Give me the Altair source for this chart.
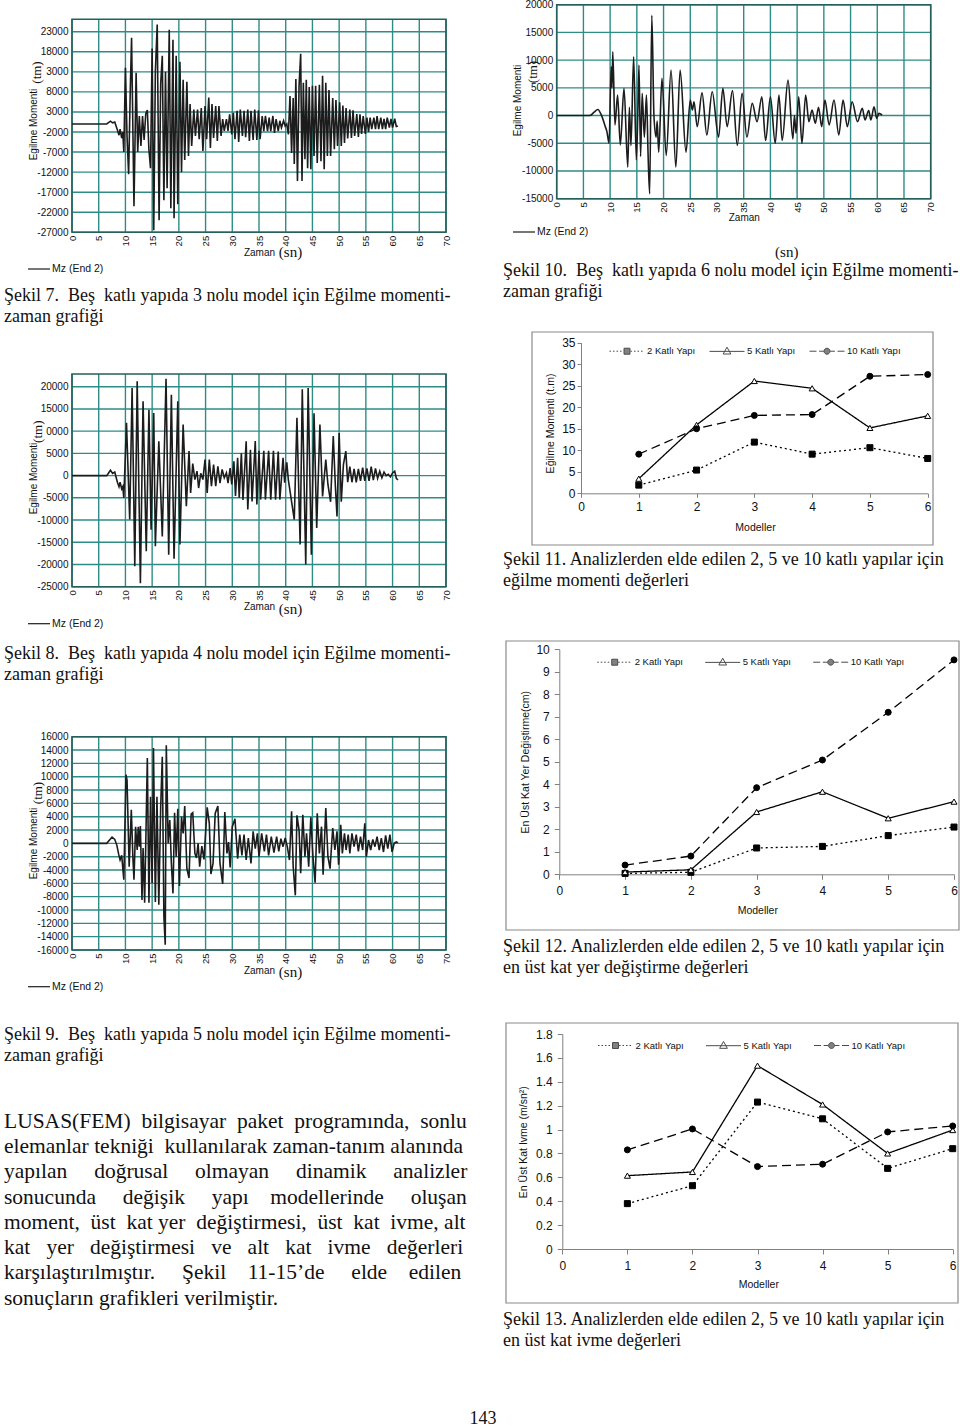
import altair as alt
import pandas as pd

W, H = 960, 1427
SANS = "Liberation Sans"
SERIF = "Liberation Serif"
INK = "#111111"
GRID = "#2e8c87"
FRAME = "#24605c"
NB = "\u00a0"

# ---------------- time histories: (time s, moment) read from the page ----------------
S7 = [(0, 0), (6.5, 0), (7.2, 700), (7.6, 300), (8.0, 500), (8.5, -1500), (8.8, -2800), (9.0, -1300), (9.3, -3500), (9.5, -2000), (9.7, -7000),
      (10.0, 14000), (10.3, -3000), (10.6, -12500), (10.9, 8000), (11.15, 21500), (11.6, -20500), (12.0, 12800), (12.3, -7000), (12.6, 2000),
      (12.9, -5500), (13.2, 2000), (13.5, -4000), (13.8, 2500), (14.1, 3500), (14.4, -6500), (14.7, -11000),
      (15.0, 18800), (15.3, -26500), (15.6, 13000), (15.95, 24800), (16.3, -24000), (16.6, 10000), (16.9, 17000), (17.2, -19000), (17.5, 13000),
      (17.8, -16000), (18.2, 23500), (18.5, -21000), (18.9, 21000), (19.1, -23500), (19.5, 17000), (19.8, -20000), (20.2, 15500), (20.5, -12000),
      (20.8, 11000), (21.1, -9000), (21.5, 10500), (21.8, -8000),
      (22.1, 5000), (22.4, -5500), (22.8, 3600), (23.1, -3000), (23.5, 3600), (23.8, -3800), (24.2, 4000), (24.5, -6700), (24.9, 4500), (25.2, -3800),
      (25.6, 6600), (25.9, -6000), (26.2, 5000), (26.5, -3500), (26.9, 4500), (27.2, -4200), (27.5, 4500), (27.9, -3000),
      (28.2, 1200), (28.5, -1700), (28.9, 1200), (29.2, -1700), (29.5, 2400), (29.9, -2600), (30.2, 2800), (30.5, -3800), (30.9, 3300), (31.2, -4500),
      (31.5, 3600), (31.9, -3000), (32.2, 3300), (32.5, -3300), (32.9, 3600), (33.2, -4200), (33.5, 3300), (33.9, -4000), (34.2, 3600), (34.6, -4000),
      (34.9, 3400), (35.2, -3800), (35.6, 2000), (35.9, -1800), (36.2, 2000), (36.6, -1800), (36.9, 1600), (37.2, -1800), (37.6, 2000), (37.9, -2200),
      (38.2, 1200), (38.6, -1800), (38.9, 800), (39.2, -900), (39.6, 800), (39.9, -500), (40.2, 0), (40.5, -2600),
      (40.8, 7000), (41.1, -7200), (41.4, 6500), (41.6, -10000), (41.9, 11200), (42.2, -14200), (42.5, 9500), (42.8, 17500), (43.05, -14200),
      (43.3, 10300), (43.6, -8800), (43.85, 11000), (44.1, -11000), (44.4, 9200), (44.7, -11300), (45.0, 9500), (45.3, -8000), (45.6, 9500),
      (45.9, -9700), (46.3, 9800), (46.6, -9300), (46.9, 12000), (47.2, -11300), (47.5, 10300), (47.8, -8000), (48.1, 8500), (48.4, -8000),
      (48.8, 6500), (49.1, -6300), (49.4, 6000), (49.7, -5500), (50.1, 5400), (50.4, -5500), (50.7, 4600), (51.0, -4700), (51.3, 4000), (51.6, -3600),
      (52.0, 3600), (52.3, -3500), (52.6, 3400), (52.9, -3000), (53.3, 2500), (53.6, -3200), (53.9, 2400), (54.2, -2500), (54.5, 2000), (54.9, -2500),
      (55.2, 1600), (55.5, -2000), (55.8, 1600), (56.1, -1300), (56.5, 1600), (56.8, -1300), (57.1, 2000), (57.4, -1300), (57.8, 1600), (58.1, -1300),
      (58.4, 1300), (58.7, -1300), (59.0, 1600), (59.4, -900), (59.7, 1300), (60.0, -900), (60.4, 1300), (60.7, -600), (61.0, -500)]

S8 = [(0, 0), (6.5, 0), (7.2, 1200), (7.6, 500), (8.0, 800), (8.5, -1500), (8.8, -2500), (9.0, -1500), (9.3, -3000), (9.5, -2500), (9.7, -5000),
      (10.2, 11900), (10.8, -9900), (11.25, 19700), (11.75, -20400), (12.2, 21200), (12.8, -24200), (13.3, 16700), (13.9, -17000), (14.4, 14800),
      (14.8, -12200), (15.3, 14100), (15.6, -15900), (16.25, 7700), (16.9, -13700), (17.6, 21800), (18.1, -17800), (18.6, 18200), (19.1, -18700),
      (19.8, 16700), (20.2, -15500), (20.8, 11500), (21.4, -6900), (21.9, 5500), (22.2, -3900),
      (22.6, 2700), (23.0, -900), (23.4, 1000), (23.7, -2800), (24.1, 500), (24.5, -900), (24.9, 3600), (25.3, -3900), (25.7, 3600), (26.1, -2400),
      (26.5, 2500), (26.9, -2400), (27.3, 2100), (27.7, -1700), (28.1, 1400), (28.5, -500), (28.9, 600), (29.2, -1700), (29.6, 1700), (29.9, -2000),
      (30.3, 3200), (30.6, -4600), (31.0, 4000), (31.3, -5000), (31.7, 5000), (32.0, -5500), (32.6, 7700), (32.9, -7600), (33.4, 5800), (33.7, -5800),
      (34.3, 7800), (34.6, -6500), (35.0, 5600), (35.3, -5400), (35.9, 5600), (36.2, -5400), (36.8, 5600), (37.2, -5400), (37.7, 5600), (38.1, -5400),
      (38.6, 5400), (38.9, -5400), (39.5, 4000), (39.8, -1600), (40.2, 3000), (40.5, -1000),
      (41.6, -9900), (42.1, 13000), (42.7, -15500), (43.1, 19400), (43.75, -20000), (44.2, 19700), (44.8, -17800), (45.3, 14000), (45.8, -11800),
      (46.4, 11500), (46.9, -4700), (47.5, 3600), (47.9, -2000), (48.4, -5900), (48.9, 8900), (49.3, -2500), (49.6, -9200), (50.0, 9600),
      (50.4, -5900), (50.8, 2500), (51.25, 5500), (51.6, -1500),
      (52.0, 2000), (52.4, -1500), (52.8, 1500), (53.2, -1500), (53.6, 1500), (54.0, -1200), (54.4, 1800), (54.8, -1200), (55.2, 1600), (55.6, -1200),
      (56.0, 2000), (56.4, -1000), (56.8, 1600), (57.2, -600), (57.6, 1000), (58.0, -500), (58.4, 800), (58.8, 0), (59.2, 300), (59.6, -300),
      (60.0, 600), (60.4, 1000), (60.7, -600), (61.0, -1000)]

S9 = [(0, 0), (6.5, 0), (7.5, 950), (8.0, 600), (8.4, -300), (8.75, -1700), (9.0, -2500), (9.3, -1800), (9.7, -5450),
      (10.1, 10300), (10.3, 9500), (10.7, -3500), (11.1, 5050), (11.4, -2200), (11.6, -5450), (11.9, 2500), (12.2, -1000), (12.4, 2500),
      (12.6, -500), (12.8, 2600), (13.1, -8500), (13.3, -700), (13.6, -8900), (13.9, 4000), (14.1, 12800), (14.4, -8900), (14.7, 7000),
      (15.0, -6000), (15.25, 14300), (15.6, -8800), (15.9, 7000), (16.25, -9200), (16.6, 5500), (16.9, 13000), (17.2, -11000), (17.45, -15200),
      (17.65, 14700), (18.0, 0), (18.3, 3500), (18.6, -3000), (18.9, -7500), (19.2, 4600), (19.5, -2000), (19.8, 5200), (20.1, -6400),
      (20.5, 4000), (20.8, 1500), (21.1, 5600), (21.5, -3800), (21.9, -5200), (22.3, 4400), (22.6, 4600), (23.0, -1500), (23.3, -2200),
      (23.6, 0), (23.9, -3500), (24.3, -400), (24.7, -2400), (25.3, 5400), (25.7, 3000), (26.0, -4600), (26.4, -3000), (26.8, 4500),
      (27.3, 5600), (27.7, -3000), (28.2, -6100), (28.6, 4700), (29.0, -1500), (29.3, 200), (29.6, -3600), (30.0, 2500), (30.5, 3700),
      (31.0, -2300), (31.4, 1300), (31.8, -1800), (32.2, 1300), (32.6, -2500), (33.0, 800), (33.5, -3000), (33.9, 1800), (34.3, -800),
      (34.7, 1500), (35.0, -2000), (35.5, 1500), (36.0, -1200), (36.4, 1300), (36.8, -1800), (37.3, 1000), (37.8, -1400), (38.3, 1000),
      (38.7, -1200), (39.1, 700), (39.5, -500), (39.9, 800), (40.3, -500),
      (40.7, -2500), (41.1, 4800), (41.4, -3500), (41.8, -7800), (42.1, 4200), (42.5, 2000), (42.8, -4500), (43.2, 4300), (43.6, -2000),
      (43.9, 1500), (44.3, -3500), (44.7, 3900), (45.1, -2000), (45.5, -5900), (45.9, 4500), (46.3, -1500), (46.7, 2500), (47.0, -4700),
      (47.5, 5300), (47.9, -2000), (48.3, -3800), (48.8, 2300), (49.2, -1000), (49.6, 1800), (49.9, -3200), (50.3, 2800), (50.6, -1500),
      (51.0, 1500), (51.3, -1000), (51.7, 1300), (52.0, -1500), (52.4, 1500), (52.8, -500), (53.2, 1300), (53.6, -1200), (54.0, 1000),
      (54.4, -1000), (54.8, 3000), (55.1, -2000), (55.5, 500), (55.9, -1000), (56.3, 600), (56.7, -500), (57.1, 1000), (57.5, -1000),
      (57.9, 800), (58.3, -1300), (58.7, 1200), (59.1, -800), (59.5, 1300), (59.9, -1300), (60.3, 0), (60.7, 200), (61.0, 100)]

S10 = [(0, 0), (6.2, 0), (7.0, 600), (7.7, 1100), (8.4, 0), (9.1, -2000), (9.4, -2900), (9.8, -5000), (10.2, 8800), (10.35, 5000),
       (10.5, 11500), (10.9, -1700), (11.4, 3700), (11.9, -5300), (12.6, 4900), (13.3, -9300), (13.6, 1500), (13.9, -5400), (14.4, 10600),
       (14.9, -8000), (15.2, 1000), (15.4, 9100), (15.7, -7400), (16.0, 4000), (16.4, -3900), (16.8, 3700), (17.1, -6900), (17.4, -14100),
       (17.8, 18100), (18.2, 0), (18.6, -3900), (18.8, -1000), (19.1, -6600), (19.7, 6700), (20.5, -7200), (21.4, 8200), (22.3, -9300),
       (23.1, 8200), (24.2, -6600), (25.0, 2800), (25.4, 1000), (25.7, 2500), (26.3, -2000), (27.2, 4100), (28.1, -3500), (29.1, 4300),
       (30.3, -3900), (31.1, 4900), (31.9, -2000), (32.9, 4500), (33.8, -5400), (34.7, 4000), (35.6, -3900), (36.6, 2200), (37.5, -1100),
       (38.4, 3400), (39.1, -4500), (40.0, 3400), (40.9, -5000), (41.6, 3700), (42.2, -4500), (43.3, 6400), (44.2, -4200), (44.5, 0),
       (44.8, -3200), (45.3, 3400), (45.9, -5000), (46.6, 3700), (47.2, -1100), (47.8, 1000), (48.4, -1400), (49.0, 1500), (49.6, -2000),
       (50.2, 2800), (51.0, -1700), (51.9, 2800), (52.8, -3500), (53.6, 2800), (54.4, -2000), (55.3, 2500), (56.3, -1100), (57.2, 1300),
       (57.7, -800), (58.4, 900), (58.8, -800), (59.4, 1600), (59.9, -500), (60.3, 400), (60.9, 100)]

TIME_TICKS = [0, 5, 10, 15, 20, 25, 30, 35, 40, 45, 50, 55, 60, 65, 70]
Y7 = [23000, 18000, 13000, 8000, 3000, -2000, -7000, -12000, -17000, -22000, -27000]
YL7 = ["23000", "18000", "3000", "8000", "3000", "-2000", "-7000", "-12000", "-17000", "-22000", "-27000"]
Y8 = [20000, 15000, 10000, 5000, 0, -5000, -10000, -15000, -20000, -25000]
YL8 = ["20000", "15000", "0000", "5000", "0", "-5000", "-10000", "-15000", "-20000", "-25000"]
Y9 = [16000, 14000, 12000, 10000, 8000, 6000, 4000, 2000, 0, -2000, -4000, -6000, -8000, -10000, -12000, -14000, -16000]
YL9 = ["16000", "14000", "12000", "10000", "8000", "6000", "4000", "2000", "0", "-2000", "-4000", "-6000", "-8000",
       "-10000", "-12000", "-14000", "-16000"]
Y10 = [20000, 15000, 10000, 5000, 0, -5000, -10000, -15000]
YL10 = ["20000", "15000", "10000", "5000", "0", "-5000", "-10000", "-15000"]

# ---------------- model comparison charts ----------------
MODELS = [1, 2, 3, 4, 5, 6]
SERIES = ["2 Katlı Yapı", "5 Katlı Yapı", "10 Katlı Yapı"]
F11 = [[1.9, 5.4, 11.9, 9.1, 10.6, 8.1],
       [3.4, 15.9, 26.1, 24.4, 15.2, 18.0],
       [9.1, 15.0, 18.1, 18.3, 27.2, 27.6]]
F12 = [[0.04, 0.09, 1.17, 1.24, 1.72, 2.1],
       [0.1, 0.2, 2.77, 3.67, 2.49, 3.23],
       [0.41, 0.81, 3.85, 5.08, 7.2, 9.53]]
F13 = [[0.38, 0.53, 1.23, 1.09, 0.675, 0.84],
       [0.614, 0.645, 1.535, 1.21, 0.80, 0.996],
       [0.83, 1.005, 0.69, 0.71, 0.98, 1.03]]
Y11 = [0, 5, 10, 15, 20, 25, 30, 35]
Y12 = [0, 1, 2, 3, 4, 5, 6, 7, 8, 9, 10]
Y13 = [0, 0.2, 0.4, 0.6, 0.8, 1.0, 1.2, 1.4, 1.6, 1.8]

CAP7 = ["Şekil 7." + NB * 2 + "Beş" + NB * 2 + "katlı yapıda 3 nolu model için Eğilme momenti-", "zaman grafiği"]
CAP8 = ["Şekil 8." + NB * 2 + "Beş" + NB * 2 + "katlı yapıda 4 nolu model için Eğilme momenti-", "zaman grafiği"]
CAP9 = ["Şekil 9." + NB * 2 + "Beş" + NB * 2 + "katlı yapıda 5 nolu model için Eğilme momenti-", "zaman grafiği"]
CAP10 = ["Şekil 10." + NB * 2 + "Beş" + NB * 2 + "katlı yapıda 6 nolu model için Eğilme momenti-", "zaman grafiği"]
CAP11 = ["Şekil 11. Analizlerden elde edilen 2, 5 ve 10 katlı yapılar için", "eğilme momenti değerleri"]
CAP12 = ["Şekil 12. Analizlerden elde edilen 2, 5 ve 10 katlı yapılar için", "en üst kat yer değiştirme değerleri"]
CAP13 = ["Şekil 13. Analizlerden elde edilen 2, 5 ve 10 katlı yapılar için", "en üst kat ivme değerleri"]

PARA_WORDS = [
    (["LUSAS(FEM)", "bilgisayar", "paket", "programında,", "sonlu"], [2, 2, 2, 2]),
    (["elemanlar", "tekniği", "kullanılarak", "zaman-tanım", "alanında"], [1, 2, 1, 1]),
    (["yapılan", "doğrusal", "olmayan", "dinamik", "analizler"], [5, 5, 5, 5]),
    (["sonucunda", "değişik", "yapı", "modellerinde", "oluşan"], [5, 5, 4, 5]),
    (["moment,", "üst", "kat", "yer", "değiştirmesi,", "üst", "kat", "ivme,", "alt"], [2, 2, 1, 2, 2, 2, 2, 1]),
    (["kat", "yer", "değiştirmesi", "ve", "alt", "kat", "ivme", "değerleri"], [3, 3, 3, 3, 3, 3, 3]),
    (["karşılaştırılmıştır.", "Şekil", "11-15’de", "elde", "edilen"], [5, 4, 5, 4]),
    (["sonuçların", "grafikleri", "verilmiştir."], [1, 1]),
]

ONE = pd.DataFrame({"k": [0]})


def sc(dom, rng):
    return alt.Scale(domain=list(dom), range=list(rng), nice=False, zero=False)


def text_layer(x, y, txt, size, font=SERIF, angle=0, align="left", baseline="alphabetic", color=INK, lh=None):
    kw = dict(font=font, fontSize=size, align=align, baseline=baseline, color=color)
    if angle:
        kw["angle"] = angle
    if lh:
        kw["lineHeight"] = lh
    return alt.Chart(ONE).mark_text(text=txt, **kw).encode(x=alt.value(x), y=alt.value(y))


def label_expr(vals, labs):
    return "[" + ",".join("'%s'" % s for s in labs) + "][indexof([" + ",".join(str(v) for v in vals) + "], datum.value)]"


def time_history(S, x0, x1, ybot, ytop, ydom, yvals, ylabs, ytitle_x, ytitle_y, zx, zy, legx, legy, interp):
    sx = lambda: sc([0, 70], [x0, x1])
    sy = lambda: sc(ydom, [ybot, ytop])
    vgrid = pd.DataFrame({"v": TIME_TICKS, "lo": ydom[0], "hi": ydom[1]})
    hgrid = pd.DataFrame({"v": yvals, "lo": 0, "hi": 70})
    frame = pd.DataFrame({"a": [0], "b": [70], "c": [ydom[0]], "d": [ydom[1]]})
    sig = pd.DataFrame({"t": [p[0] for p in S], "m": [p[1] for p in S], "s": "Mz (End 2)"})
    L = [
        alt.Chart(vgrid).mark_rule(color=GRID, strokeWidth=1.4).encode(
            x=alt.X("v:Q", scale=sx(), axis=None), y=alt.Y("lo:Q", scale=sy(), axis=None), y2="hi:Q"),
        alt.Chart(hgrid).mark_rule(color=GRID, strokeWidth=1.4).encode(
            y=alt.Y("v:Q", scale=sy(), axis=None), x=alt.X("lo:Q", scale=sx(), axis=None), x2="hi:Q"),
        alt.Chart(frame).mark_rect(fillOpacity=0, stroke=FRAME, strokeWidth=1.6).encode(
            x=alt.X("a:Q", scale=sx(), axis=None), x2="b:Q", y=alt.Y("c:Q", scale=sy(), axis=None), y2="d:Q"),
        alt.Chart(sig).mark_line(strokeWidth=1.6, interpolate=interp).encode(
            x=alt.X("t:Q", scale=sx(), axis=alt.Axis(
                orient="bottom", offset=ybot - H, values=TIME_TICKS, format="d", labelAngle=270,
                labelFont=SANS, labelFontSize=9.5, labelColor="#111", labelPadding=3, ticks=False, tickSize=0,
                domain=False, grid=False, labelOverlap=False, labelFlush=False,
                title="Zaman", titleFont=SANS, titleFontSize=10, titleFontWeight="normal", titleColor="#111",
                titleX=zx, titleY=zy - ybot, titleBaseline="middle", titleAlign="center")),
            y=alt.Y("m:Q", scale=sy(), axis=alt.Axis(
                orient="left", offset=-x0, values=yvals, labelExpr=label_expr(yvals, ylabs),
                labelFont=SANS, labelFontSize=10, labelColor="#111", labelPadding=4, ticks=False, tickSize=0,
                domain=False, grid=False, labelOverlap=False, labelFlush=False,
                title="Egilme Momenti", titleFont=SANS, titleFontSize=10, titleFontWeight="normal", titleColor="#111",
                titleX=ytitle_x - x0, titleY=ytitle_y, titleAngle=270, titleBaseline="middle", titleAlign="center")),
            color=alt.Color("s:N", scale=alt.Scale(domain=["Mz (End 2)"], range=["#1c1c1c"]), legend=alt.Legend(
                orient="none", legendX=legx, legendY=legy, title=None, symbolType="stroke", symbolSize=484,
                symbolStrokeWidth=1.2, labelFont=SANS, labelFontSize=10.5, labelColor="#111", labelOffset=1, padding=0)),
        ),
    ]
    return L


def dotted_path():
    segs = []
    for i in range(10):
        x = -1.0 + 0.2 * i
        if abs(x + 0.045) > 0.22:
            segs.append("M%.3f,0h0.09" % x)
    return "".join(segs) + "M-0.17,-0.17h0.34v0.34h-0.34Z"


PATHS = [
    dotted_path(),
    "M-1,0H1M0,-0.24L0.22,0.15L-0.22,0.15Z",
    "M-1,0h0.4M-0.45,0h0.27M0.18,0h0.27M0.6,0h0.4M0.17,0A0.17,0.17,0,1,1,-0.17,0A0.17,0.17,0,1,1,0.17,0Z",
]


def line_panel(F, x0, x1, ybot, ytop, ymax, yvals, yfmt, ytitle, ytx, yty, mtx, mty, legx, legy, colpad,
               ytick, ypad, xtick, xpad, fsize):
    sx = lambda: sc([0, 6], [x0, x1])
    sy = lambda: sc([0, ymax], [ybot, ytop])
    rows = []
    for s, vals in zip(SERIES, F):
        for m, v in zip(MODELS, vals):
            rows.append({"m": m, "v": v, "s": s})
    df = pd.DataFrame(rows)
    empty = pd.DataFrame({"m": pd.Series([], dtype=float), "v": pd.Series([], dtype=float),
                          "s": pd.Series([], dtype=str)})
    leg = dict(orient="none", legendX=legx, legendY=legy, direction="horizontal", columns=3, title=None,
               symbolSize=1225, symbolStrokeColor="black", symbolStrokeWidth=1, labelFont=SANS,
               labelFontSize=9.5, labelColor="#111", labelOffset=2, columnPadding=colpad, padding=0)
    L = [
        alt.Chart(df).mark_line(color="black", strokeWidth=1.3).encode(
            x=alt.X("m:Q", scale=sx(), axis=alt.Axis(
                orient="bottom", offset=ybot - H, values=[0, 1, 2, 3, 4, 5, 6], format="d",
                labelFont=SANS, labelFontSize=fsize, labelColor="#111", labelPadding=xpad, tickSize=xtick,
                tickColor="#808080", domainColor="#808080", grid=False, labelOverlap=False, labelFlush=False,
                title="Modeller", titleFont=SANS, titleFontSize=10.5, titleFontWeight="normal", titleColor="#111",
                titleX=mtx, titleY=mty - ybot, titleBaseline="middle", titleAlign="center")),
            y=alt.Y("v:Q", scale=sy(), axis=alt.Axis(
                orient="left", offset=-x0, values=yvals, format=yfmt,
                labelFont=SANS, labelFontSize=fsize, labelColor="#111", labelPadding=ypad, tickSize=ytick,
                tickColor="#808080", domainColor="#808080", grid=False, labelOverlap=False, labelFlush=False,
                title=ytitle, titleFont=SANS, titleFontSize=10.5, titleFontWeight="normal", titleColor="#111",
                titleX=ytx - x0, titleY=yty, titleAngle=270, titleBaseline="middle", titleAlign="center")),
            strokeDash=alt.StrokeDash("s:N", scale=alt.Scale(domain=SERIES, range=[[2, 3], [1, 0], [9, 5]]), legend=None),
        ),
        alt.Chart(df).mark_point(filled=True, stroke="black", strokeWidth=1, size=36, opacity=1).encode(
            x=alt.X("m:Q", scale=sx(), axis=None), y=alt.Y("v:Q", scale=sy(), axis=None),
            shape=alt.Shape("s:N", scale=alt.Scale(domain=SERIES, range=["square", "triangle-up", "circle"]), legend=None),
            fill=alt.Fill("s:N", scale=alt.Scale(domain=SERIES, range=["black", "white", "black"]), legend=None),
        ),
        alt.Chart(empty).mark_point(filled=True, strokeWidth=1).encode(
            x=alt.X("m:Q", scale=sx(), axis=None), y=alt.Y("v:Q", scale=sy(), axis=None),
            shape=alt.Shape("s:N", scale=alt.Scale(domain=SERIES, range=PATHS), legend=alt.Legend(**leg)),
            fill=alt.Fill("s:N", scale=alt.Scale(domain=SERIES, range=["black", "white", "black"]), legend=alt.Legend(**leg)),
            stroke=alt.Stroke("s:N", scale=alt.Scale(domain=SERIES, range=["black", "black", "black"]), legend=alt.Legend(**leg)),
        ),
    ]
    return L


layers = []

# frames of the comparison charts (decorative)
for (fx0, fy0, fx1, fy1) in [(532, 332, 933, 545), (506, 641, 959, 930), (506, 1023, 958, 1303)]:
    layers.append(alt.Chart(ONE).mark_rect(fillOpacity=0, stroke="#8a8a8a", strokeWidth=1.2).encode(
        x=alt.value(fx0), x2=alt.value(fx1), y=alt.value(fy0), y2=alt.value(fy1)))

layers += time_history(S7, 72, 446, 232.3, 19.3, [-27000, 26100], Y7, YL7, 33, 124, 259, 252.3, 27, 257, "linear")
layers += time_history(S8, 72, 446, 586.7, 374, [-25000, 22860], Y8, YL8, 33, 478, 259, 606.7, 27, 611.7, "linear")
layers += time_history(S9, 72, 446, 950, 736.7, [-16000, 16000], Y9, YL9, 33, 843, 259, 970, 27, 974.7, "linear")
layers += time_history(S10, 556.7, 930.7, 198.7, 4.7, [-15000, 20000], Y10, YL10, 517.7, 100, 743.8, 217.3, 512, 220, "monotone")

layers += line_panel(F11, 581, 927.7, 493.3, 342.7, 35, Y11, "d", "Eğilme Momenti (t.m)", 550, 423, 755, 527.7,
                     609, 333.2, 11, 4, 2, 4, 4.4, 12)
layers += line_panel(F12, 559.3, 954, 874.3, 649.3, 10, Y12, "d", "En Üst Kat Yer Değiştirme(cm)", 525, 761.7, 757.3, 910.7,
                     596.7, 644.2, 19, 5, 5, 5, 6.4, 12)
layers += line_panel(F13, 562.3, 952.7, 1249, 1034, 1.8, Y13, "~g", "En Üst Kat Ivme (m/sn²)", 523.3, 1141.7, 758.3, 1284.3,
                     597.5, 1027.5, 19, 5, 5, 5, 6.7, 12)

# unit annotations
for (x, y) in [(290.5, 252.3), (290.5, 609), (290.5, 971.7), (786.7, 252.3)]:
    layers.append(text_layer(x, y, "(sn)", 15, align="center", baseline="middle"))
for (x, y) in [(37, 72.5), (38, 431.7), (38, 793), (533, 72)]:
    layers.append(text_layer(x, y, "(tm)", 13, angle=270, align="center", baseline="middle"))

# captions
for (x, y, cap) in [(4, 301, CAP7), (4, 658.5, CAP8), (4, 1040, CAP9), (503, 276, CAP10),
                    (503, 565, CAP11), (503, 952, CAP12), (503, 1325, CAP13)]:
    layers.append(text_layer(x, y, cap, 18, lh=21))

# paragraph
para = []
for words, gaps in PARA_WORDS:
    s = words[0]
    for w, g in zip(words[1:], gaps):
        s += NB * g + w
    para.append(s)
layers.append(text_layer(4, 1127.7, para, 21.5, lh=25.3))

# page number
layers.append(text_layer(483, 1424, "143", 18, align="center"))

chart = alt.layer(*layers).resolve_scale(
    x="independent", y="independent", color="independent", shape="independent",
    fill="independent", stroke="independent", strokeDash="independent"
).resolve_axis(x="independent", y="independent").resolve_legend(
    color="independent", shape="independent", fill="independent", stroke="independent", strokeDash="independent"
).properties(
    width=W, height=H, autosize=alt.AutoSizeParams(type="none"), padding=0, background="white"
).configure_view(strokeWidth=0)

chart.save("out.html", embed_options={"renderer": "svg", "actions": False})
